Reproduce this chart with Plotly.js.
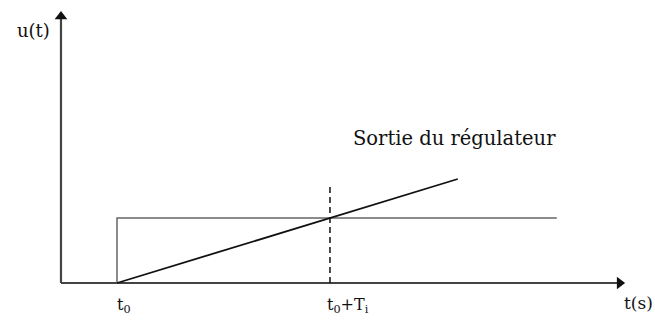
<!DOCTYPE html>
<html>
<head>
<meta charset="utf-8">
<script src="https://cdn.plot.ly/plotly-3.0.1.min.js"></script>
<style>
  html, body { margin: 0; padding: 0; background: #fff; }
  #chart { width: 655px; height: 320px; }
</style>
</head>
<body>
<div id="chart"></div>
<script>
// Step input and PI controller output (integral action)
const t0 = 1;          // step instant
const Ti = 2;          // integral time
const stepLevel = 1;   // step amplitude

// Step input u(t)
const stepT = [t0, t0, 5.13];
const stepU = [0, stepLevel, stepLevel];

// Controller output: ramp reaching the step level at t0 + Ti
const rampT = [t0, 4.2];
const rampU = [0, 1.6];

// Marker at t0 + Ti
const markT = [t0 + Ti, t0 + Ti];
const markU = [0, 1.51];

// Axes drawn as arrows
const xAxisT = [0.474, 5.72];
const xAxisU = [0, 0];
const yAxisT = [0.474, 0.474];
const yAxisU = [0, 4.1];

const tickLabels = ['t<sub>0</sub>', 't<sub>0</sub>+T<sub>i</sub>'];
const tickPos = [t0, t0 + Ti];
const tickShift = [-2, -5];

const serif = "'DejaVu Serif', 'Liberation Serif', serif";

const traces = [
  { x: xAxisT, y: xAxisU, mode: 'lines', line: { color: '#444', width: 2.2 }, hoverinfo: 'skip' },
  { x: yAxisT, y: yAxisU, mode: 'lines', line: { color: '#444', width: 2.2 }, hoverinfo: 'skip' },
  { x: [xAxisT[1]], y: [0], mode: 'markers', marker: { symbol: 'triangle-right', size: 11, color: '#111' }, hoverinfo: 'skip' },
  { x: [yAxisT[0]], y: [yAxisU[1]], mode: 'markers', marker: { symbol: 'triangle-up', size: 11, color: '#111' }, hoverinfo: 'skip' },
  { x: stepT, y: stepU, mode: 'lines', line: { color: '#666', width: 1.5 }, hoverinfo: 'skip' },
  { x: rampT, y: rampU, mode: 'lines', line: { color: '#111', width: 1.8 }, hoverinfo: 'skip' },
  { x: markT, y: markU, mode: 'lines', line: { color: '#111', width: 1.5, dash: '6px,4px' }, hoverinfo: 'skip' }
];

const annotations = tickPos.map((t, i) => ({
  x: t, y: 0, xref: 'x', yref: 'y', text: tickLabels[i], showarrow: false,
  xanchor: 'left', yanchor: 'top', xshift: tickShift[i], yshift: -10,
  font: { family: serif, size: 16, color: '#111' }
}));
annotations.push(
  { x: 5.74, y: 0, text: 't(s)', showarrow: false, xanchor: 'left', yanchor: 'top', yshift: -8,
    font: { family: serif, size: 17, color: '#111' } },
  { x: yAxisT[0], y: 3.88, text: 'u(t)', showarrow: false, xanchor: 'right', xshift: -9,
    font: { family: serif, size: 18, color: '#111' } },
  { x: 3.2, y: 2.23, text: 'Sortie du régulateur', showarrow: false, xanchor: 'left',
    font: { family: serif, size: 19.5, color: '#111' } }
);

const layout = {
  width: 655, height: 320,
  margin: { l: 0, r: 0, t: 0, b: 0 },
  paper_bgcolor: '#fff', plot_bgcolor: '#fff',
  showlegend: false,
  xaxis: { range: [-0.0986, 6.052], visible: false, fixedrange: true },
  yaxis: { range: [-0.569, 4.354], visible: false, fixedrange: true },
  annotations: annotations
};

Plotly.newPlot('chart', traces, layout, { displayModeBar: false, staticPlot: true });
</script>
</body>
</html>
